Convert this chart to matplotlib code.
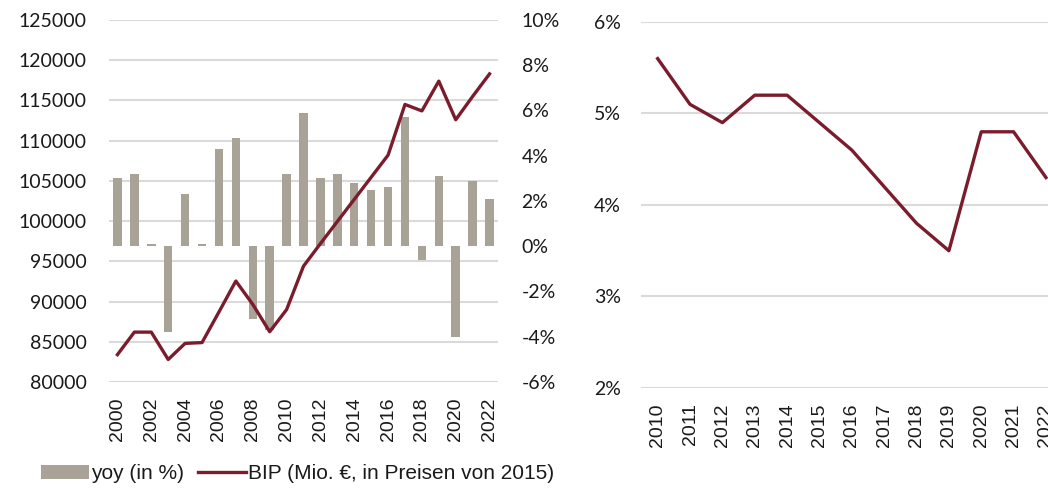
import matplotlib
matplotlib.use("Agg")
import matplotlib.pyplot as plt
import numpy as np

# left panel: BIP level (line) and yoy growth (bars)
years = list(range(2000, 2023))
bip = [83400, 86200, 86200, 82800, 84800, 84900, 88700, 92550, 89650, 86250,
       89000, 94400, 97200, 99950, 102700, 105450, 108200, 114500, 113700,
       117400, 112600, 115500, 118300]
yoy = [3.0, 3.2, 0.1, -3.8, 2.3, 0.1, 4.3, 4.8, -3.2, -3.7, 3.2, 5.9, 3.0,
       3.2, 2.8, 2.5, 2.6, 5.7, -0.6, 3.1, -4.0, 2.9, 2.1]

# right panel: share in percent
years_r = list(range(2010, 2023))
share = [5.6, 5.1, 4.9, 5.2, 5.2, 4.9, 4.6, 4.2, 3.8, 3.5, 4.8, 4.8, 4.3]

left_ticks = list(range(80000, 125001, 5000))
pct_ticks = list(range(-6, 11, 2))
share_ticks = [2, 3, 4, 5, 6]

BAR = "#a8a396"
LINE = "#7b1c2c"
GRID = "#dadada"
TXT = "#1a1a1a"
YFONT = "Lato"
XFONT = "Liberation Sans"

fig = plt.figure(figsize=(10.48, 4.91), dpi=100)

# ---- left chart
ax = fig.add_axes([0.1040, 0.2220, 0.3712, 0.7373])
ax2 = ax.twinx()
x = np.arange(len(years))

ax.set_ylim(80000, 125000)
ax.set_yticks(left_ticks)
ax.set_yticklabels([str(v) for v in left_ticks], fontfamily=YFONT, fontsize=14, color=TXT)
ax.grid(axis="y", color=GRID, linewidth=1.5)
ax.set_axisbelow(True)

ax2.set_ylim(-6, 10)
ax2.set_yticks(pct_ticks)
ax2.set_yticklabels([f"{v}%" for v in pct_ticks], fontfamily=YFONT, fontsize=14, color=TXT)
bars = ax2.bar(x, yoy, width=0.5, color=BAR, zorder=2)
# line uses the left (BIP) scale but sits on top of the bars
line, = ax2.plot(x, bip, color=LINE, linewidth=2.4, transform=ax.transData, zorder=3)

ax.set_xlim(-0.5, len(years) - 0.5)
ax.set_xticks(x[::2])
ax.set_xticklabels([str(y) for y in years[::2]], rotation=90, fontfamily=XFONT,
                   fontsize=14, color=TXT)

for a in (ax, ax2):
    for s in a.spines.values():
        s.set_visible(False)
    a.tick_params(length=0)
ax.tick_params(axis="y", pad=16)
ax2.tick_params(axis="y", pad=17)
ax.tick_params(axis="x", pad=11)

fig.legend([bars, line], ["yoy (in %)", "BIP (Mio. €, in Preisen von 2015)"],
           loc="center", bbox_to_anchor=(0.284, 0.035), ncol=2, frameon=False,
           prop={"family": XFONT, "size": 15}, labelcolor=TXT, handlelength=2.3,
           handleheight=0.7, handletextpad=0.1, columnspacing=0.7)

# ---- right chart (cut off at the figure edge like the source)
axr = fig.add_axes([0.6121, 0.2098, 0.4014, 0.7454])
xr = np.arange(len(years_r))
axr.plot(xr, share, color=LINE, linewidth=2.4)
axr.set_ylim(2, 6)
axr.set_yticks(share_ticks)
axr.set_yticklabels([f"{v}%" for v in share_ticks], fontfamily=YFONT, fontsize=14, color=TXT)
axr.set_xlim(-0.5, len(years_r) - 0.5)
axr.set_xticks(xr)
axr.set_xticklabels([str(y) for y in years_r], rotation=90, fontfamily=XFONT,
                    fontsize=14, color=TXT)
axr.grid(axis="y", color=GRID, linewidth=1.5)
axr.set_axisbelow(True)
for s in axr.spines.values():
    s.set_visible(False)
axr.tick_params(length=0)
axr.tick_params(axis="y", pad=15)
axr.tick_params(axis="x", pad=11)

fig.savefig("out.png", dpi=100)
